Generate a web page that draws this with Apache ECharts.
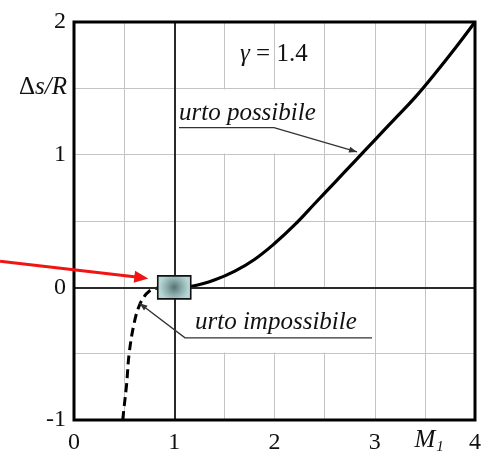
<!DOCTYPE html>
<html><head><meta charset="utf-8">
<script src="https://cdn.jsdelivr.net/npm/echarts@6/dist/echarts.min.js"></script>
<style>html,body{margin:0;padding:0;background:#fff}#c{width:485px;height:455px}</style>
</head><body><div id="c"></div>
<script>
// Normal shock: entropy jump Δs/R against upstream Mach number M1 (γ = 1.4)
const machPossible = [1.0, 1.2, 1.4, 1.6, 1.8, 2.0, 2.2, 2.4, 2.6, 2.8, 3.0, 3.2, 3.4, 3.6, 3.8, 4.0];
const entropyPossible = [0, 0.012, 0.055, 0.12, 0.21, 0.33, 0.47, 0.63, 0.79, 0.95, 1.11, 1.27, 1.43, 1.61, 1.80, 2.0];
const machImpossible = [0.486, 0.5, 0.525, 0.55, 0.6, 0.65, 0.7, 0.75, 0.8, 0.85, 0.9, 0.95, 1.0];
const entropyImpossible = [-1.0, -0.9, -0.73, -0.5, -0.27, -0.14, -0.07, -0.03, -0.012, -0.004, -0.001, 0, 0];
const xTickLabels = { '0': '0', '1': '1', '2': '2', '3': '3', '4': '4' };
const yTickLabels = { '-1': '-1', '0': '0', '1': '1', '2': '2' };
const yAxisTitle = ['Δ', 's/R'];      // upright, italic
const xAxisTitle = ['M', '1'];        // italic, subscript
const gammaLabel = ['γ', ' = 1.4'];   // italic, upright
const possibleLabel = 'urto possibile';
const impossibleLabel = 'urto impossibile';

const FAMILY = 'Liberation Serif';
const F_UP = '25px "Liberation Serif"';
const F_IT = 'italic 25px "Liberation Serif"';
const F_SUB = 'italic 15px "Liberation Serif"';
const INK = '#111';

const measureCtx = document.createElement('canvas').getContext('2d');
function textWidth(font, s) { measureCtx.font = font; return measureCtx.measureText(s).width; }

const chart = echarts.init(document.getElementById('c'), null, { renderer: 'canvas' });
const zip = (xs, ys) => xs.map((x, i) => [x, ys[i]]);

chart.setOption({
  animation: false,
  backgroundColor: '#fff',
  grid: { left: 74, right: 10, top: 22, bottom: 32, containLabel: false },
  xAxis: {
    type: 'value', min: 0, max: 4, interval: 0.5,
    axisLine: { show: false }, axisTick: { show: false },
    splitLine: { show: true, lineStyle: { color: '#c4c4c4', width: 1 } },
    axisLabel: {
      show: true, showMinLabel: true, showMaxLabel: true, margin: 11,
      fontFamily: FAMILY, fontSize: 24, color: INK,
      formatter: v => xTickLabels[String(v)] || ''
    }
  },
  yAxis: {
    type: 'value', min: -1, max: 2, interval: 0.5,
    axisLine: { show: false }, axisTick: { show: false },
    splitLine: { show: true, lineStyle: { color: '#c4c4c4', width: 1 } },
    axisLabel: {
      show: true, showMinLabel: true, showMaxLabel: true, margin: 8,
      fontFamily: FAMILY, fontSize: 24, color: INK,
      formatter: v => yTickLabels[String(v)] || ''
    }
  },
  series: [
    {
      // white panels behind the two captions
      type: 'line', data: [], z: 2, silent: true,
      markArea: {
        silent: true,
        itemStyle: { color: '#ffffff', opacity: 1, borderWidth: 0 },
        label: { show: false },
        data: [
          [{ xAxis: 1.0, yAxis: 1.008 }, { xAxis: 2.492, yAxis: 1.492 }],
          [{ xAxis: 1.0, yAxis: -0.492 }, { xAxis: 2.992, yAxis: -0.008 }]
        ]
      }
    },
    {
      // reference lines M1 = 1 and Δs/R = 0
      type: 'line', data: [], z: 3, silent: true,
      markLine: {
        silent: true, symbol: ['none', 'none'], label: { show: false },
        lineStyle: { color: '#2a2a2a', width: 2, type: 'solid' },
        data: [{ xAxis: 1 }, { yAxis: 0 }]
      }
    },
    {
      name: 'urto impossibile', type: 'line', z: 4, smooth: 0.4, showSymbol: false,
      data: zip(machImpossible, entropyImpossible),
      lineStyle: { color: '#000', width: 3, type: [9, 5], cap: 'butt' }
    },
    {
      name: 'urto possibile', type: 'line', z: 4, smooth: 0.4, showSymbol: false,
      data: zip(machPossible, entropyPossible),
      lineStyle: { color: '#000', width: 3.2 }
    }
  ]
});

// annotations placed in data coordinates
const P = v => chart.convertToPixel({ gridIndex: 0 }, v);

function arrowHead(tip, from, len, half, color) {
  const dx = tip[0] - from[0], dy = tip[1] - from[1];
  const d = Math.hypot(dx, dy), ux = dx / d, uy = dy / d;
  const bx = tip[0] - ux * len, by = tip[1] - uy * len;
  return {
    type: 'polygon', z: 120,
    shape: { points: [tip, [bx - uy * half, by + ux * half], [bx + uy * half, by - ux * half]] },
    style: { fill: color }
  };
}
function label(text, font, x, y, align) {
  return {
    type: 'text', z: 120, x: x, y: y, silent: true,
    style: { text: text, font: font, fill: INK, align: align || 'left', verticalAlign: 'middle' }
  };
}

const tl = P([0, 2]), br = P([4, -1]);
const origin = P([1, 0]);

// leader lines of the captions
const posU0 = P([1.047, 1.204]), posU1 = P([1.995, 1.204]), posTip = P([2.823, 1.021]);
const impU1 = P([2.973, -0.381]), impU0 = P([1.107, -0.381]), impTip = P([0.653, -0.12]);
// red pointer to the sonic point
const redFrom = P([-0.738, 0.197]), redTip = P([0.741, 0.067]);
const redDx = redTip[0] - redFrom[0], redDy = redTip[1] - redFrom[1], redD = Math.hypot(redDx, redDy);
const redShaftEnd = [redTip[0] - redDx / redD * 12, redTip[1] - redDy / redD * 12];

const gPos = P([1.656, 1.754]), pPos = P([1.047, 1.313]), iPos = P([1.207, -0.266]);
const yTitle = P([-0.07, 1.5]);
const xTitle = P([3.5, -1]);
const mWidth = textWidth(F_IT, xAxisTitle[0]);
const srWidth = textWidth(F_IT, yAxisTitle[1]);
const gWidth = textWidth(F_IT, gammaLabel[0]);

chart.setOption({
  graphic: [
    // plot frame
    {
      type: 'rect', z: 110, silent: true,
      shape: { x: tl[0], y: tl[1], width: br[0] - tl[0], height: br[1] - tl[1] },
      style: { fill: 'none', stroke: '#000', lineWidth: 3 }
    },
    // axis titles
    label(yAxisTitle[1], F_IT, yTitle[0], yTitle[1] - 1, 'right'),
    label(yAxisTitle[0], F_UP, yTitle[0] - srWidth, yTitle[1] - 1, 'right'),
    label(xAxisTitle[0], F_IT, xTitle[0], xTitle[1] + 20, 'center'),
    label(xAxisTitle[1], F_SUB, xTitle[0] + mWidth / 2 + 1, xTitle[1] + 27, 'left'),
    // captions
    label(gammaLabel[0], F_IT, gPos[0], gPos[1]),
    label(gammaLabel[1], F_UP, gPos[0] + gWidth, gPos[1]),
    label(possibleLabel, F_IT, pPos[0], pPos[1]),
    label(impossibleLabel, F_IT, iPos[0], iPos[1]),
    {
      type: 'polyline', z: 120, silent: true,
      shape: { points: [posU0, posU1, posTip] },
      style: { stroke: '#333', lineWidth: 1.4, fill: 'none' }
    },
    arrowHead(posTip, posU1, 8, 3, '#333'),
    {
      type: 'polyline', z: 120, silent: true,
      shape: { points: [impU1, impU0, impTip] },
      style: { stroke: '#333', lineWidth: 1.4, fill: 'none' }
    },
    arrowHead(impTip, impU0, 8, 3, '#333'),
    // sonic point marker
    {
      type: 'rect', z: 130, silent: true,
      shape: { x: origin[0] - 16.5, y: origin[1] - 11.5, width: 33, height: 23 },
      style: {
        fill: new echarts.graphic.RadialGradient(0.5, 0.5, 0.6, [
          { offset: 0, color: '#587273' },
          { offset: 0.55, color: '#8fb0b0' },
          { offset: 1, color: '#b8d6d6' }
        ]),
        stroke: '#111', lineWidth: 1.6
      }
    },
    {
      type: 'line', z: 130, silent: true,
      shape: { x1: redFrom[0], y1: redFrom[1], x2: redShaftEnd[0], y2: redShaftEnd[1] },
      style: { stroke: '#f01414', lineWidth: 3 }
    },
    arrowHead(redTip, redFrom, 14, 6, '#f01414')
  ]
});
</script>
</body></html>
